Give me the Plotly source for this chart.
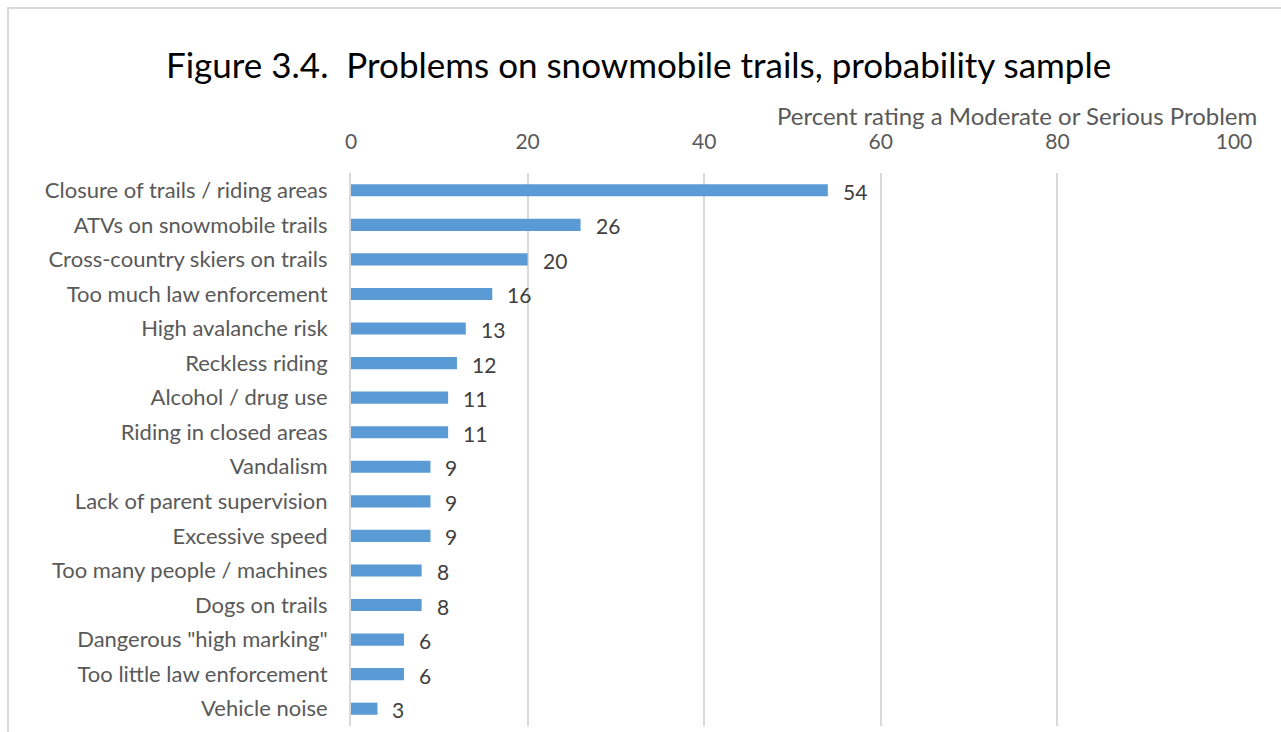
import plotly.graph_objects as go

categories = [
    "Closure of trails / riding areas",
    "ATVs on snowmobile trails",
    "Cross-country skiers on trails",
    "Too much law enforcement",
    "High avalanche risk",
    "Reckless riding",
    "Alcohol / drug use",
    "Riding in closed areas",
    "Vandalism",
    "Lack of parent supervision",
    "Excessive speed",
    "Too many people / machines",
    "Dogs on trails",
    'Dangerous "high marking"',
    "Too little law enforcement",
    "Vehicle noise",
]
values = [54, 26, 20, 16, 13, 12, 11, 11, 9, 9, 9, 8, 8, 6, 6, 3]
x_ticks = [0, 20, 40, 60, 80, 100]

FONT = "Lato"
GREY = "#595959"

W, H = 1281, 732
L, R, T, B = 351, 1234, 173, 726
pw, ph = R - L, B - T

def px_x(p):
    return (p - L) / pw

def px_y(p):
    return (B - p) / ph

fig = go.Figure()
fig.add_trace(go.Bar(
    x=values, y=categories, orientation="h",
    marker=dict(color="#5B9BD5", line=dict(width=0)),
    width=0.35, hoverinfo="x+y",
))

annotations = []
for c, v in zip(categories, values):
    annotations.append(dict(
        x=v, y=c, xref="x", yref="y", text=str(v), showarrow=False,
        xanchor="left", yanchor="middle", xshift=13, yshift=-1,
        font=dict(family=FONT, size=21, color="#404040"),
    ))

annotations.append(dict(
    x=px_x(1259), y=px_y(115), xref="paper", yref="paper",
    text="Percent rating a Moderate or Serious Problem", showarrow=False,
    xanchor="right", yanchor="middle",
    font=dict(family=FONT, size=24, color=GREY),
))
annotations.append(dict(
    x=px_x(638), y=px_y(64), xref="paper", yref="paper",
    text="Figure 3.4.  Problems on snowmobile trails, probability sample", showarrow=False,
    xanchor="center", yanchor="middle",
    font=dict(family=FONT, size=35, color="#000000"),
))

fig.update_layout(
    width=W, height=H,
    margin=dict(l=L, r=W - R, t=T, b=H - B, pad=0),
    paper_bgcolor="white", plot_bgcolor="white",
    showlegend=False,
    bargap=0.65,
    annotations=annotations,
    shapes=[dict(
        type="rect", xref="paper", yref="paper",
        x0=px_x(8), x1=px_x(1300), y0=px_y(760), y1=px_y(8),
        line=dict(color="#D9D9D9", width=2), fillcolor="rgba(0,0,0,0)", layer="below",
    )],
    xaxis=dict(
        side="top", range=[0, 100], tickvals=x_ticks, ticktext=[str(t) for t in x_ticks],
        showgrid=True, gridcolor="#D9D9D9", gridwidth=2,
        zeroline=False, showline=False, ticks="",
        tickfont=dict(family=FONT, size=21, color=GREY),
        ticklabelstandoff=19,
    ),
    yaxis=dict(
        autorange="reversed", showgrid=False, zeroline=False,
        showline=True, linecolor="#D9D9D9", linewidth=2, ticks="",
        tickfont=dict(family=FONT, size=22, color=GREY),
        ticklabelstandoff=17,
    ),
)

fig.write_html("out.html")
